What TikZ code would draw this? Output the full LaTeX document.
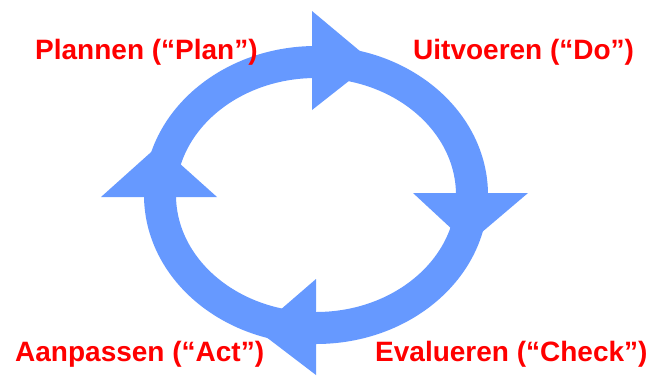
\documentclass[tikz,border=0pt]{standalone}
\usepackage{fontspec}
\setmainfont{Liberation Sans}
\definecolor{cycblue}{RGB}{102,153,255}
\definecolor{labred}{RGB}{255,0,0}
\begin{document}
\begin{tikzpicture}[x=1pt,y=-1pt,
  ring/.style={draw=cycblue,line width=32pt},
  head/.style={fill=cycblue,draw=none},
  lab/.style={text=labred,font=\fontsize{28}{32}\selectfont\bfseries,inner sep=0pt,anchor=base west}]
\useasboundingbox (0,0) rectangle (666,376);
\fill[white] (0,0) rectangle (666,376);
% ring
\draw[ring] (316,195) ellipse [x radius=156, y radius=133];
% arrow heads
\fill[head] (312,11) -- (312,110) -- (373,62) -- cycle;
\fill[head] (413,193) -- (528,193) -- (468,244) -- cycle;
\fill[head] (316,279) -- (316,375) -- (257,330) -- cycle;
\fill[head] (101,197) -- (217,197) -- (159,145) -- cycle;
% labels
\node[lab] (plan) at (35,59) {Plannen (“Plan”)};
\node[lab] (do) at (413,59) {Uitvoeren (“Do”)};
\node[lab] (act) at (15,361) {Aanpassen (“Act”)};
\node[lab] (check) at (375,361) {Evalueren (“Check”)};
\end{tikzpicture}
\end{document}
